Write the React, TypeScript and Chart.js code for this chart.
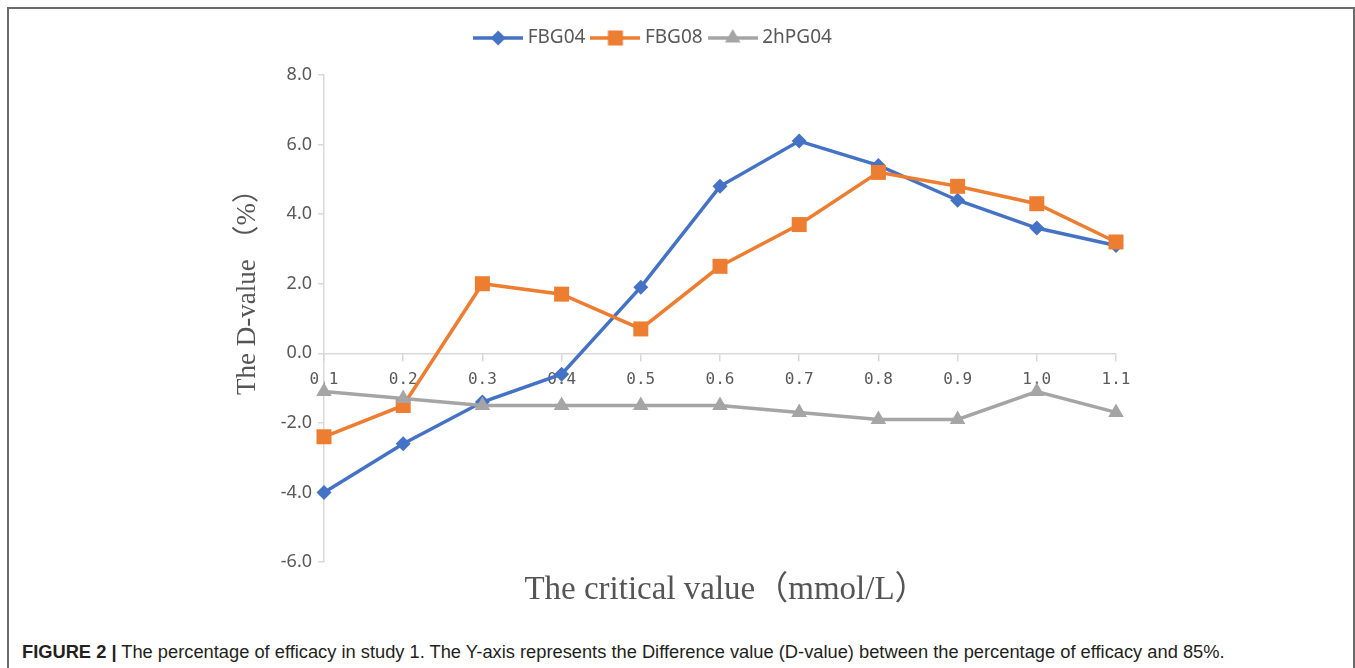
import React, { useEffect, useRef } from 'react';
import { Chart, registerables } from 'chart.js';

Chart.register(...registerables);

// ---- data ----
const categories = ['0.1', '0.2', '0.3', '0.4', '0.5', '0.6', '0.7', '0.8', '0.9', '1.0', '1.1'];
const fbg04 = [-4.0, -2.6, -1.4, -0.6, 1.9, 4.8, 6.1, 5.4, 4.4, 3.6, 3.1];
const fbg08 = [-2.4, -1.5, 2.0, 1.7, 0.7, 2.5, 3.7, 5.2, 4.8, 4.3, 3.2];
const hpg04 = [-1.1, -1.3, -1.5, -1.5, -1.5, -1.5, -1.7, -1.9, -1.9, -1.1, -1.7];
const seriesNames = ['FBG04', 'FBG08', '2hPG04'];
const yMin = -6;
const yMax = 8;
const yStep = 2;
const xTitle = 'The critical value（mmol/L）';
const yTitle = 'The D-value （%）';
const captionBold = 'FIGURE 2 |';
const captionText =
  ' The percentage of efficacy in study 1. The Y-axis represents the Difference value (D-value) between the percentage of efficacy and 85%.';

const COLORS = ['#4472C4', '#ED7D31', '#A5A5A5'];
const STYLES = ['rectRot', 'rect', 'triangle'];
const RADII = [7.5, 10.6, 9];
const LINE_W = 3.5;

function makeLegendIcon(color: string, style: string): HTMLCanvasElement {
  const c = document.createElement('canvas');
  c.width = 50;
  c.height = 20;
  const g = c.getContext('2d')!;
  g.strokeStyle = color;
  g.fillStyle = color;
  g.lineWidth = LINE_W;
  g.beginPath();
  g.moveTo(0, 10);
  g.lineTo(50, 10);
  g.stroke();
  const cx = 25;
  const cy = 10;
  g.beginPath();
  if (style === 'rectRot') {
    const r = 7.5;
    g.moveTo(cx, cy - r);
    g.lineTo(cx + r, cy);
    g.lineTo(cx, cy + r);
    g.lineTo(cx - r, cy);
    g.closePath();
  } else if (style === 'rect') {
    g.rect(cx - 7.5, cy - 7.5, 15, 15);
  } else {
    const r = 9;
    g.moveTo(cx, cy - r);
    g.lineTo(cx + r * 0.866, cy + r / 2);
    g.lineTo(cx - r * 0.866, cy + r / 2);
    g.closePath();
  }
  g.fill();
  return c;
}

const axisTitlePlugin = {
  id: 'axisTitles',
  afterDraw(chart: any) {
    const { ctx, chartArea: a } = chart;
    ctx.save();
    ctx.fillStyle = '#555555';
    ctx.textAlign = 'center';
    ctx.textBaseline = 'middle';
    ctx.font = '33px "Liberation Serif", "Noto Sans CJK SC", serif';
    ctx.fillText(xTitle, (a.left + a.right) / 2 + 6, a.bottom + 28);
    ctx.translate(a.left - 76, a.top + 320);
    ctx.rotate(-Math.PI / 2);
    ctx.textAlign = 'left';
    ctx.font = '27px "Liberation Serif", "Noto Sans CJK SC", serif';
    ctx.fillText(yTitle, 0, 0);
    ctx.restore();
  },
};

export default function App() {
  const ref = useRef<HTMLCanvasElement | null>(null);

  useEffect(() => {
    if (!ref.current) return;
    const icons = COLORS.map((c, i) => makeLegendIcon(c, STYLES[i]));
    const seriesData = [fbg04, fbg08, hpg04];
    const chart = new Chart(ref.current, {
      type: 'line',
      data: {
        labels: categories,
        datasets: seriesData.map((d, i) => ({
          label: seriesNames[i],
          data: d,
          borderColor: COLORS[i],
          backgroundColor: COLORS[i],
          borderWidth: LINE_W,
          pointStyle: STYLES[i] as any,
          pointRadius: RADII[i],
          pointHoverRadius: RADII[i],
          pointBorderWidth: 0,
          pointBackgroundColor: COLORS[i],
          tension: 0,
          fill: false,
          clip: false as any,
          order: 2 - i,
        })),
      },
      options: {
        responsive: false,
        animation: false,
        events: [],
        layout: { padding: { left: 185, right: 237, top: 9.5, bottom: 72 } },
        scales: {
          x: {
            type: 'category',
            position: { y: 0 } as any,
            offset: false,
            grid: {
              display: true,
              drawOnChartArea: false,
              drawTicks: true,
              tickLength: 7,
              color: '#d9d9d9',
              lineWidth: 1.5,
            },
            border: { display: true, color: '#d9d9d9', width: 1.5 },
            ticks: {
              autoSkip: false,
              maxRotation: 0,
              padding: 10,
              color: '#595959',
              font: { family: '"DejaVu Sans Mono", monospace', size: 16 },
            },
          },
          y: {
            type: 'linear',
            position: 'left',
            min: yMin,
            max: yMax,
            afterFit: (scale: any) => {
              scale.width = 130;
            },
            grid: {
              display: true,
              drawOnChartArea: false,
              drawTicks: true,
              tickLength: 6,
              color: '#d9d9d9',
              lineWidth: 1.5,
            },
            border: { display: true, color: '#d9d9d9', width: 1.5 },
            ticks: {
              stepSize: yStep,
              padding: 6,
              color: '#595959',
              font: { family: '"Noto Sans", sans-serif', size: 18 },
              callback: (v: any) => Number(v).toFixed(1),
            },
          },
        },
        plugins: {
          tooltip: { enabled: false },
          legend: {
            display: true,
            position: 'top',
            labels: {
              usePointStyle: true,
              pointStyleWidth: 40,
              padding: 10,
              color: '#595959',
              font: { family: '"Noto Sans", sans-serif', size: 19 },
              sort: (a: any, b: any) => a.datasetIndex - b.datasetIndex,
              generateLabels: (ch: any) => {
                const items = Chart.defaults.plugins.legend.labels.generateLabels(ch);
                return items.map((it: any) => ({ ...it, pointStyle: icons[it.datasetIndex] }));
              },
            },
          },
          subtitle: {
            display: true,
            text: '',
            weight: 500,
            font: { size: 10, lineHeight: 1 },
            padding: { top: 7.5, bottom: 0 },
          } as any,
        },
      },
      plugins: [axisTitlePlugin],
    });
    return () => chart.destroy();
  }, []);

  return (
    <div
      style={{
        position: 'fixed',
        left: 7,
        top: 7,
        width: 1344,
        height: 720,
        border: '2px solid #6b6b6b',
        background: '#ffffff',
      }}
    >
      <canvas ref={ref} width={1344} height={625} style={{ display: 'block', width: 1344, height: 625 }} />
      <div
        style={{
          position: 'absolute',
          left: 13,
          top: 632,
          lineHeight: '22px',
          fontFamily: '"Liberation Sans", Arial, sans-serif',
          fontSize: 18.3,
          color: '#231f20',
          whiteSpace: 'nowrap',
        }}
      >
        <b>{captionBold}</b>
        {captionText}
      </div>
    </div>
  );
}
